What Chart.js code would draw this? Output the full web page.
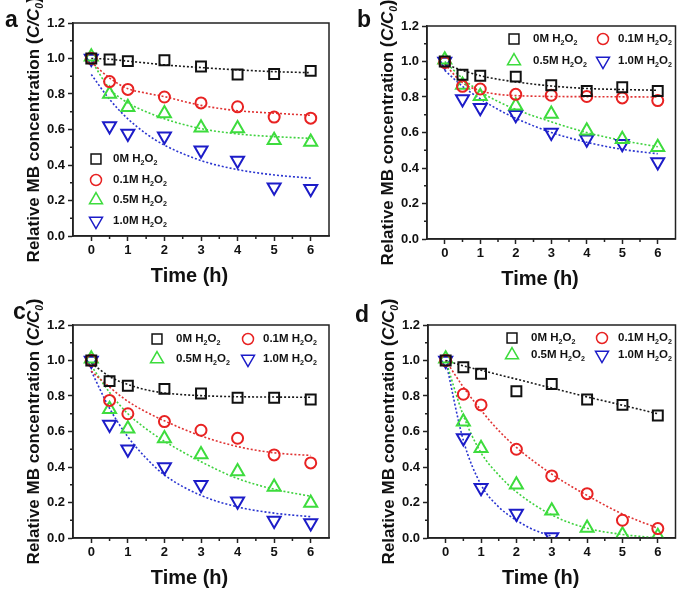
<!DOCTYPE html>
<html>
<head>
<meta charset="utf-8">
<script src="https://cdn.jsdelivr.net/npm/chart.js@4.4.1/dist/chart.umd.min.js"></script>
<style>
  html, body { margin: 0; padding: 0; background: #fff; }
  #wrap { position: relative; width: 685px; height: 592px; overflow: hidden; }
  canvas { position: absolute; }
</style>
</head>
<body>
<div id="wrap">
  <canvas id="graph_a" width="342" height="296" style="left:0;top:0"></canvas>
  <canvas id="graph_b" width="343" height="296" style="left:342px;top:0"></canvas>
  <canvas id="graph_c" width="342" height="296" style="left:0;top:296px"></canvas>
  <canvas id="graph_d" width="343" height="296" style="left:342px;top:296px"></canvas>
</div>
<script>
// Eixos e categorias

const tempo = [0, 0.5, 1, 2, 3, 4, 5, 6];
const tempoCurto = [0, 0.5, 1, 2, 3];
const tempoFit = [0, 0.5, 1, 1.5, 2, 3, 4, 5, 6];
const tempoFitCurto = [0, 0.5, 1, 1.5, 2, 2.5, 3];
const xTicks = [0, 1, 2, 3, 4, 5, 6];
const xMinor = [0.5, 1.5, 2.5, 3.5, 4.5, 5.5];
const yTicks = [0, 0.2, 0.4, 0.6, 0.8, 1.0, 1.2];
const yMinor = [0.1, 0.3, 0.5, 0.7, 0.9, 1.1];
const nomes = ["0M", "0.1M", "0.5M", "1.0M"];

// Painel a
const a0M = [1.0, 0.994, 0.985, 0.99, 0.955, 0.91, 0.913, 0.93];
const a01M = [1.0, 0.87, 0.826, 0.783, 0.75, 0.728, 0.67, 0.664];
const a05M = [1.01, 0.8, 0.725, 0.69, 0.61, 0.605, 0.54, 0.53];
const a10M = [1.0, 0.62, 0.577, 0.562, 0.483, 0.426, 0.274, 0.266];
const aFit0M = [1.0, 0.996, 0.985, 0.975, 0.964, 0.949, 0.936, 0.926, 0.92];
const aFit01M = [0.98, 0.89, 0.83, 0.805, 0.785, 0.736, 0.706, 0.692, 0.68];
const aFit05M = [0.99, 0.83, 0.75, 0.7, 0.66, 0.605, 0.575, 0.56, 0.55];
const aFit10M = [0.91, 0.77, 0.66, 0.576, 0.512, 0.425, 0.374, 0.344, 0.326];

// Painel b
const b0M = [1.0, 0.925, 0.92, 0.915, 0.866, 0.834, 0.855, 0.834];
const b01M = [0.995, 0.86, 0.845, 0.815, 0.81, 0.803, 0.795, 0.78];
const b05M = [1.01, 0.868, 0.804, 0.751, 0.704, 0.61, 0.562, 0.517];
const b10M = [1.0, 0.789, 0.74, 0.7, 0.6, 0.562, 0.536, 0.434];
const bFit0M = [0.985, 0.95, 0.92, 0.9, 0.885, 0.862, 0.848, 0.842, 0.838];
const bFit01M = [0.985, 0.88, 0.835, 0.815, 0.808, 0.803, 0.802, 0.801, 0.8];
const bFit05M = [1.0, 0.905, 0.83, 0.775, 0.73, 0.66, 0.6, 0.555, 0.52];
const bFit10M = [0.95, 0.86, 0.79, 0.73, 0.68, 0.6, 0.545, 0.505, 0.48];

// Painel c
const c0M = [1.0, 0.884, 0.858, 0.84, 0.814, 0.79, 0.79, 0.78];
const c01M = [1.0, 0.775, 0.7, 0.656, 0.607, 0.562, 0.468, 0.423];
const c05M = [1.01, 0.725, 0.615, 0.56, 0.47, 0.375, 0.288, 0.197];
const c10M = [1.0, 0.64, 0.5, 0.4, 0.3, 0.207, 0.098, 0.085];
const cFit0M = [0.985, 0.91, 0.865, 0.835, 0.817, 0.802, 0.796, 0.794, 0.793];
const cFit01M = [0.94, 0.85, 0.77, 0.71, 0.66, 0.575, 0.515, 0.48, 0.465];
const cFit05M = [0.97, 0.82, 0.7, 0.615, 0.545, 0.43, 0.335, 0.275, 0.235];
const cFit10M = [0.94, 0.73, 0.57, 0.45, 0.355, 0.24, 0.175, 0.14, 0.12];

// Painel d
const d0M = [1.0, 0.962, 0.925, 0.827, 0.868, 0.78, 0.75, 0.69];
const d01M = [1.0, 0.81, 0.75, 0.5, 0.35, 0.25, 0.1, 0.053];
const d05M = [1.01, 0.655, 0.505, 0.3, 0.153, 0.057, 0.019, 0.01];
const d10M = [1.0, 0.563, 0.283, 0.138, 0.006];
const dFit0M = [1.0, 0.97, 0.945, 0.92, 0.895, 0.845, 0.795, 0.748, 0.7];
const dFit01M = [1.0, 0.85, 0.72, 0.605, 0.51, 0.36, 0.24, 0.135, 0.055];
const dFit05M = [1.0, 0.69, 0.48, 0.355, 0.26, 0.13, 0.055, 0.02, 0.0];
const dFit10M = [1.0, 0.55, 0.3, 0.175, 0.1, 0.045, 0.01];

// Estilo das séries

const FONTE = '"Liberation Sans", Arial, sans-serif';
const estilos = [
  { cor: "#111111", fit: "#1a1a1a", ponto: "rect", raio: 7, rot: 0 },
  { cor: "#e82222", fit: "#e03333", ponto: "circle", raio: 5.5, rot: 0 },
  { cor: "#3ddc3d", fit: "#3fd23f", ponto: "triangle", raio: 7.5, rot: 0 },
  { cor: "#1c1cc8", fit: "#2a35d0", ponto: "triangle", raio: 7.5, rot: 180 },
];

function pares(xs, ys) {
  return ys.map((y, i) => ({ x: xs[i], y: y }));
}

function desenharRico(ctx, partes, x, y, tam) {
  let cx = x;
  partes.forEach((p) => {
    const fs = p.sub ? tam * 0.62 : tam * (p.escala || 1);
    ctx.font = (p.italico ? "italic " : "") + "bold " + fs + "px " + FONTE;
    ctx.fillText(p.t, cx, y + (p.sub ? tam * 0.33 : 0));
    cx += ctx.measureText(p.t).width;
  });
  return cx - x;
}

function larguraRica(ctx, partes, tam) {
  let w = 0;
  partes.forEach((p) => {
    const fs = p.sub ? tam * 0.62 : tam * (p.escala || 1);
    ctx.font = (p.italico ? "italic " : "") + "bold " + fs + "px " + FONTE;
    w += ctx.measureText(p.t).width;
  });
  return w;
}

const tituloY = [
  { t: "Relative MB concentration " },
  { t: "(", escala: 1.1 },
  { t: "C/C", italico: true },
  { t: "0", italico: true, sub: true },
  { t: ")", escala: 1.1 },
];

function criarGrafico(id, painel) {
  const canvas = document.getElementById(id);
  const W = canvas.width;
  const H = canvas.height;
  const area = painel.area;
  const larguraY = 40;
  const alturaX = 30;

  const datasets = [];
  painel.pontos.forEach((ys, i) => {
    const e = estilos[i];
    datasets.push({
      label: nomes[i] + " H2O2",
      data: pares(painel.xPontos[i], ys),
      showLine: false,
      pointStyle: e.ponto,
      pointRadius: e.raio,
      pointRotation: e.rot,
      pointBorderWidth: 2,
      borderColor: e.cor,
      backgroundColor: "rgba(0,0,0,0)",
      order: 1,
    });
  });
  painel.fits.forEach((ys, i) => {
    const e = estilos[i];
    datasets.push({
      label: nomes[i] + " fit",
      data: pares(painel.xFits[i], ys),
      showLine: true,
      pointRadius: 0,
      borderColor: e.fit,
      borderWidth: 1.6,
      borderDash: [2, 2],
      cubicInterpolationMode: "monotone",
      fill: false,
      order: 2,
    });
  });

  const extras = {
    id: "extras_" + id,
    afterDraw(chart) {
      const ctx = chart.ctx;
      const ca = chart.chartArea;
      const sx = chart.scales.x;
      const sy = chart.scales.y;
      ctx.save();

      // moldura
      ctx.strokeStyle = "#222";
      ctx.lineWidth = 1.5;
      ctx.strokeRect(ca.left, ca.top, ca.right - ca.left, ca.bottom - ca.top);

      // ticks menores
      ctx.beginPath();
      xMinor.forEach((v) => {
        const px = sx.getPixelForValue(v);
        ctx.moveTo(px, ca.bottom);
        ctx.lineTo(px, ca.bottom + 3);
      });
      yMinor.forEach((v) => {
        const py = sy.getPixelForValue(v);
        ctx.moveTo(ca.left, py);
        ctx.lineTo(ca.left - 3, py);
      });
      ctx.stroke();

      ctx.fillStyle = "#111";
      ctx.textBaseline = "middle";
      ctx.textAlign = "left";

      // título Y
      ctx.save();
      ctx.translate(ca.left - 39, (ca.top + ca.bottom) / 2);
      ctx.rotate(-Math.PI / 2);
      const wy = larguraRica(ctx, tituloY, 17);
      desenharRico(ctx, tituloY, -wy / 2, 0, 17);
      ctx.restore();

      // título X
      ctx.font = "bold 20px " + FONTE;
      ctx.textAlign = "center";
      ctx.fillText("Time (h)", ca.left + 0.455 * (ca.right - ca.left), ca.bottom + 40);

      // letra do painel
      ctx.textAlign = "left";
      ctx.textBaseline = "alphabetic";
      ctx.font = "bold 23px " + FONTE;
      ctx.fillText(painel.letra, painel.posLetra[0], painel.posLetra[1]);

      // legenda
      ctx.textBaseline = "middle";
      painel.legenda.forEach((pos, i) => {
        const e = estilos[i];
        ctx.strokeStyle = e.cor;
        ctx.fillStyle = "rgba(0,0,0,0)";
        Chart.helpers.drawPoint(
          ctx,
          { pointStyle: e.ponto, radius: e.raio, rotation: e.rot, borderWidth: 2 },
          pos[0],
          pos[1]
        );
        ctx.fillStyle = "#111";
        desenharRico(
          ctx,
          [{ t: nomes[i] + " H" }, { t: "2", sub: true }, { t: "O" }, { t: "2", sub: true }],
          pos[2],
          pos[1],
          11.5
        );
      });
      ctx.restore();
    },
  };

  return new Chart(canvas, {
    type: "scatter",
    data: { datasets: datasets },
    options: {
      responsive: false,
      animation: false,
      layout: {
        padding: {
          left: area.left - larguraY,
          top: area.top,
          right: W - area.right,
          bottom: H - area.bottom - alturaX,
        },
      },
      plugins: {
        legend: { display: false },
        tooltip: { enabled: false },
      },
      scales: {
        x: {
          type: "linear",
          min: -0.5,
          max: 6.5,
          afterBuildTicks: (scale) => {
            scale.ticks = xTicks.map((v) => ({ value: v }));
          },
          afterFit: (scale) => {
            scale.height = alturaX;
          },
          ticks: {
            color: "#111",
            padding: 2,
            font: { family: FONTE, size: 13, weight: "bold" },
            callback: (v) => String(v),
          },
          grid: {
            drawOnChartArea: false,
            tickLength: 5,
            tickWidth: 1.5,
            tickColor: "#222",
          },
          border: { color: "#222", width: 1.5 },
        },
        y: {
          type: "linear",
          min: 0,
          max: 1.2,
          afterBuildTicks: (scale) => {
            scale.ticks = yTicks.map((v) => ({ value: v }));
          },
          afterFit: (scale) => {
            scale.width = larguraY;
          },
          ticks: {
            color: "#111",
            padding: 3,
            font: { family: FONTE, size: 13, weight: "bold" },
            callback: (v) => Number(v).toFixed(1),
          },
          grid: {
            drawOnChartArea: false,
            tickLength: 5,
            tickWidth: 1.5,
            tickColor: "#222",
          },
          border: { color: "#222", width: 1.5 },
        },
      },
    },
    plugins: [extras],
  });
}

const xPadrao = [tempo, tempo, tempo, tempo];
const xFitPadrao = [tempoFit, tempoFit, tempoFit, tempoFit];

criarGrafico("graph_a", {
  letra: "a",
  posLetra: [5, 27],
  area: { left: 73, top: 23, right: 329, bottom: 236 },
  pontos: [a0M, a01M, a05M, a10M],
  fits: [aFit0M, aFit01M, aFit05M, aFit10M],
  xPontos: xPadrao,
  xFits: xFitPadrao,
  legenda: [
    [96, 159, 113],
    [96, 180, 113],
    [96, 200, 113],
    [96, 221, 113],
  ],
});

criarGrafico("graph_b", {
  letra: "b",
  posLetra: [15, 27],
  area: { left: 85, top: 26, right: 339, bottom: 239 },
  pontos: [b0M, b01M, b05M, b10M],
  fits: [bFit0M, bFit01M, bFit05M, bFit10M],
  xPontos: xPadrao,
  xFits: xFitPadrao,
  legenda: [
    [172, 39, 191],
    [261, 39, 276],
    [172, 61, 191],
    [261, 61, 276],
  ],
});

criarGrafico("graph_c", {
  letra: "c",
  posLetra: [13, 23],
  area: { left: 73, top: 29, right: 329, bottom: 242 },
  pontos: [c0M, c01M, c05M, c10M],
  fits: [cFit0M, cFit01M, cFit05M, cFit10M],
  xPontos: xPadrao,
  xFits: xFitPadrao,
  legenda: [
    [157, 43, 176],
    [248, 43, 263],
    [157, 63, 176],
    [248, 63, 263],
  ],
});

criarGrafico("graph_d", {
  letra: "d",
  posLetra: [13, 26],
  area: { left: 86, top: 29, right: 339, bottom: 242 },
  pontos: [d0M, d01M, d05M, d10M],
  fits: [dFit0M, dFit01M, dFit05M, dFit10M],
  xPontos: [tempo, tempo, tempo, tempoCurto],
  xFits: [tempoFit, tempoFit, tempoFit, tempoFitCurto],
  legenda: [
    [170, 42, 189],
    [260, 42, 276],
    [170, 59, 189],
    [260, 59, 276],
  ],
});
</script>
</body>
</html>
